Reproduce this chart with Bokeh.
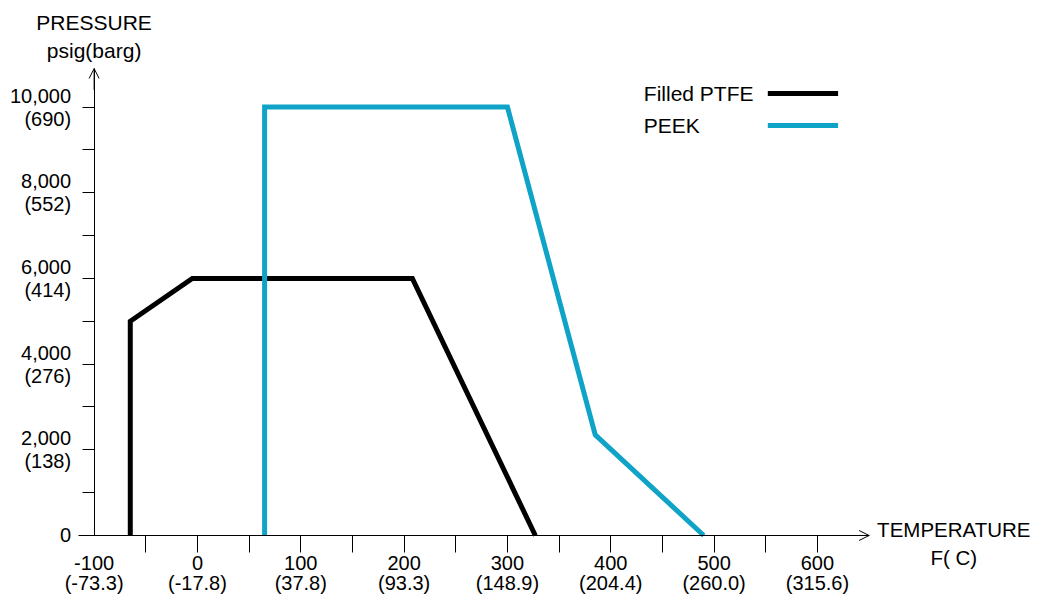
from bokeh.plotting import figure
from bokeh.models import (FixedTicker, LinearAxis, Label, Arrow, OpenHead, Range1d)
from bokeh.embed import file_html
from bokeh.resources import INLINE

# ---------------- data ----------------
series_names = ["Filled PTFE", "PEEK"]
series_colors = ["#000000", "#0fa3c8"]
ptfe_temp = [-65, -65, -5, 208, 327]
ptfe_press = [0, 5000, 6000, 6000, 0]
peek_temp = [65, 65, 300, 385, 490]
peek_press = [0, 10000, 10000, 2350, 0]

x_tick_values = [-100, 0, 100, 200, 300, 400, 500, 600]
x_tick_labels = ["-100\n(-73.3)", "0\n(-17.8)", "100\n(37.8)", "200\n(93.3)", "300\n(148.9)",
                 "400\n(204.4)", "500\n(260.0)", "600\n(315.6)"]
x_minor_ticks = [-50, 50, 150, 250, 350, 450, 550]

y_tick_values = [0, 2000, 4000, 6000, 8000, 10000]
y_tick_labels = ["0", "2,000\n(138)", "4,000\n(276)", "6,000\n(414)",
                 "8,000\n(552)", "10,000\n(690)"]
y_minor_ticks = [1000, 3000, 5000, 7000, 9000]

x_title = ["TEMPERATURE", "F( C)"]
y_title = ["PRESSURE", "psig(barg)"]

# ---------------- layout constants ----------------
X_AXIS_START, X_AXIS_END = -115, 650
Y_AXIS_END = 10900
FONT = "Liberation Sans"

p = figure(width=1034, height=594, output_backend="svg", toolbar_location=None,
           x_range=Range1d(-190.6, 810.1), y_range=Range1d(-1377.5, 12488),
           min_border=0, x_axis_type=None, y_axis_type=None)
p.outline_line_color = None
p.grid.visible = False
p.background_fill_color = "white"


def style_axis(ax, tick_out, standoff, size="20px", lh=1.05):
    ax.major_tick_out = tick_out
    ax.major_tick_in = 0
    ax.minor_tick_out = 0
    ax.minor_tick_in = 0
    ax.major_label_standoff = standoff
    ax.major_label_text_font = FONT
    ax.major_label_text_font_size = size
    ax.major_label_text_color = "black"
    ax.major_label_text_line_height = lh
    ax.axis_line_color = "black"
    ax.major_tick_line_color = "black"


# y axis
yax = LinearAxis(fixed_location=-100, bounds=(0, Y_AXIS_END))
yax.ticker = FixedTicker(ticks=sorted(y_tick_values + y_minor_ticks), minor_ticks=[])
ov = {v: l for v, l in zip(y_tick_values, y_tick_labels)}
ov.update({v: "" for v in y_minor_ticks})
yax.major_label_overrides = ov
style_axis(yax, 12, 11)
p.add_layout(yax, "left")

# x axis: ticks (no tick at -100 where the y axis stands)
xax = LinearAxis(fixed_location=0, bounds=(X_AXIS_START, X_AXIS_END))
xax.ticker = FixedTicker(ticks=sorted(x_tick_values[1:] + x_minor_ticks), minor_ticks=[])
xax.major_label_overrides = {v: "" for v in x_tick_values[1:] + x_minor_ticks}
style_axis(xax, 17, 5)
p.add_layout(xax, "below")

# x axis: labels only
xax2 = LinearAxis(fixed_location=0, bounds=(X_AXIS_START, X_AXIS_END))
xax2.ticker = FixedTicker(ticks=x_tick_values, minor_ticks=[])
xax2.major_label_overrides = {v: l for v, l in zip(x_tick_values, x_tick_labels)}
style_axis(xax2, 16, 1, size="20px", lh=0.88)
xax2.axis_line_color = None
xax2.major_tick_line_color = None
p.add_layout(xax2, "below")

# arrow heads
p.add_layout(Arrow(end=OpenHead(size=10, line_color="black", line_width=1),
                   x_start=-100, y_start=Y_AXIS_END - 500, x_end=-100, y_end=Y_AXIS_END,
                   line_color="black", line_width=1))
p.add_layout(Arrow(end=OpenHead(size=10, line_color="black", line_width=1),
                   x_start=X_AXIS_END - 40, y_start=0, x_end=X_AXIS_END, y_end=0,
                   line_color="black", line_width=1))

# series
p.line(ptfe_temp, ptfe_press, line_color=series_colors[0], line_width=5, line_join="miter")
p.line(peek_temp, peek_press, line_color=series_colors[1], line_width=5, line_join="miter")

# axis titles
p.add_layout(Label(x=-100, y=Y_AXIS_END, y_offset=46, text=y_title[0], text_align="center",
                   text_baseline="middle", text_font=FONT, text_font_size="21px", text_color="black"))
p.add_layout(Label(x=-100, y=Y_AXIS_END, y_offset=18, text=y_title[1], text_align="center",
                   text_baseline="middle", text_font=FONT, text_font_size="21px", text_color="black"))
p.add_layout(Label(x=732, y=0, y_offset=6, text=x_title[0], text_align="center",
                   text_baseline="middle", text_font=FONT, text_font_size="20.5px", text_color="black"))
p.add_layout(Label(x=732, y=0, y_offset=-22, text=x_title[1], text_align="center",
                   text_baseline="middle", text_font=FONT, text_font_size="20.5px", text_color="black"))

# legend (label left of swatch)
LEG_TEXT_X = 432
LEG_LINE_X0, LEG_LINE_X1 = 552, 620
LEG_Y = [10317, 9570]
for name, color, ly in zip(series_names, series_colors, LEG_Y):
    p.add_layout(Label(x=LEG_TEXT_X, y=ly, text=name, text_align="left", text_baseline="middle",
                       text_font=FONT, text_font_size="21px", text_color="black"))
    p.line([LEG_LINE_X0, LEG_LINE_X1], [ly, ly], line_color=color, line_width=5)

open("out.html", "w").write(file_html(p, INLINE))
